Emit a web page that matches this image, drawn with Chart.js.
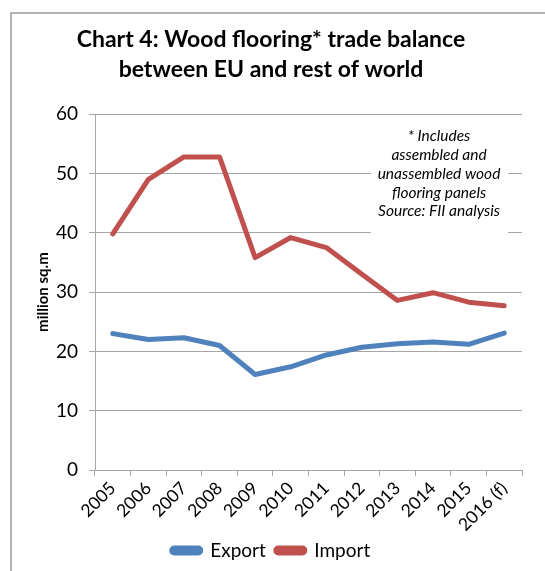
<!DOCTYPE html>
<html>
<head>
<meta charset="utf-8">
<script src="https://cdn.jsdelivr.net/npm/chart.js@4/dist/chart.umd.min.js"></script>
<style>
  html, body { margin: 0; padding: 0; background: #fff; }
  #wrap { position: relative; width: 545px; height: 571px; overflow: hidden; }
  #frame {
    position: absolute; left: 10px; top: 12px; width: 600px; height: 600px;
    border-left: 2px solid #b3b3b3; border-top: 2px solid #b3b3b3;
  }
  canvas { position: absolute; left: 0; top: 0; }
</style>
</head>
<body>
<div id="wrap">
  <div id="frame"></div>
  <canvas id="tradeChart" width="545" height="571"></canvas>
</div>
<script>
// --- DATA ---
const years = ["2005", "2006", "2007", "2008", "2009", "2010", "2011", "2012", "2013", "2014", "2015", "2016 (f)"];
const exportValues = [23.0, 22.0, 22.3, 21.0, 16.1, 17.4, 19.4, 20.7, 21.3, 21.6, 21.2, 23.1];
const importValues = [39.8, 49.0, 52.8, 52.8, 35.8, 39.2, 37.5, 33.0, 28.6, 29.9, 28.3, 27.7];
const noteLines = ["* Includes", "assembled and", "unassembled wood", "flooring panels", "Source: FII analysis"];

const FONT = "Lato, 'Open Sans', sans-serif";
const GRID = "#a6a6a6";

// Footnote box in the top-right corner of the plot, covering the gridlines behind it
const notePlugin = {
    id: "note",
    beforeDatasetsDraw(chart) {
        const area = chart.chartArea;
        const ctx = chart.ctx;
        const cx = area.right - 83;
        ctx.save();
        ctx.fillStyle = "#fff";
        ctx.fillRect(cx - 68, area.top + 6, 137, 116);
        ctx.fillStyle = "#000";
        ctx.font = "italic 15.5px " + FONT;
        ctx.textAlign = "center";
        ctx.textBaseline = "middle";
        noteLines.forEach((line, i) => {
            ctx.fillText(line, cx, area.top + 22 + i * 18.8);
        });
        ctx.restore();
    }
};

const ctx = document.getElementById("tradeChart").getContext("2d");
new Chart(ctx, {
    type: "line",
    data: {
        labels: years,
        datasets: [{
            label: "Export",
            data: exportValues,
            borderColor: "#4f81bd",
            backgroundColor: "#4f81bd",
            borderWidth: 5,
            borderCapStyle: "round",
            borderJoinStyle: "round",
            pointRadius: 0,
            tension: 0
        }, {
            label: "Import",
            data: importValues,
            borderColor: "#c0504d",
            backgroundColor: "#c0504d",
            borderWidth: 5,
            borderCapStyle: "round",
            borderJoinStyle: "round",
            pointRadius: 0,
            tension: 0
        }]
    },
    options: {
        responsive: false,
        animation: false,
        layout: { padding: { left: 20, right: 23, top: 0, bottom: 1 } },
        scales: {
            x: {
                offset: true,
                grid: { offset: true, drawOnChartArea: false, color: GRID, tickLength: 6 },
                border: { color: GRID },
                ticks: {
                    color: "#000",
                    font: { family: FONT, size: 17.5 },
                    autoSkip: false,
                    maxRotation: 45,
                    minRotation: 45,
                    padding: 2
                },
                afterFit(scale) { scale.height = 61; }
            },
            y: {
                min: 0,
                max: 60,
                ticks: {
                    stepSize: 10,
                    color: "#000",
                    font: { family: FONT, size: 19 },
                    padding: 11
                },
                grid: { color: GRID, tickLength: 6 },
                border: { color: GRID },
                title: {
                    display: true,
                    text: "million sq.m",
                    color: "#000",
                    font: { family: FONT, size: 15, weight: "bold" },
                    padding: { top: 14, bottom: 0 }
                },
                afterFit(scale) { scale.width = 75; }
            }
        },
        plugins: {
            title: {
                display: true,
                text: ["Chart 4: Wood flooring* trade balance", "between EU and rest of world"],
                color: "#000",
                font: { family: FONT, size: 23, weight: "bold", lineHeight: 1.33 },
                padding: { top: 24, bottom: 29 }
            },
            legend: {
                position: "bottom",
                labels: {
                    color: "#000",
                    font: { family: FONT, size: 19 },
                    boxWidth: 29,
                    boxHeight: 5,
                    useBorderRadius: true,
                    borderRadius: 2.5,
                    padding: 10
                }
            },
            tooltip: { enabled: false }
        }
    },
    plugins: [notePlugin]
});
</script>
</body>
</html>
